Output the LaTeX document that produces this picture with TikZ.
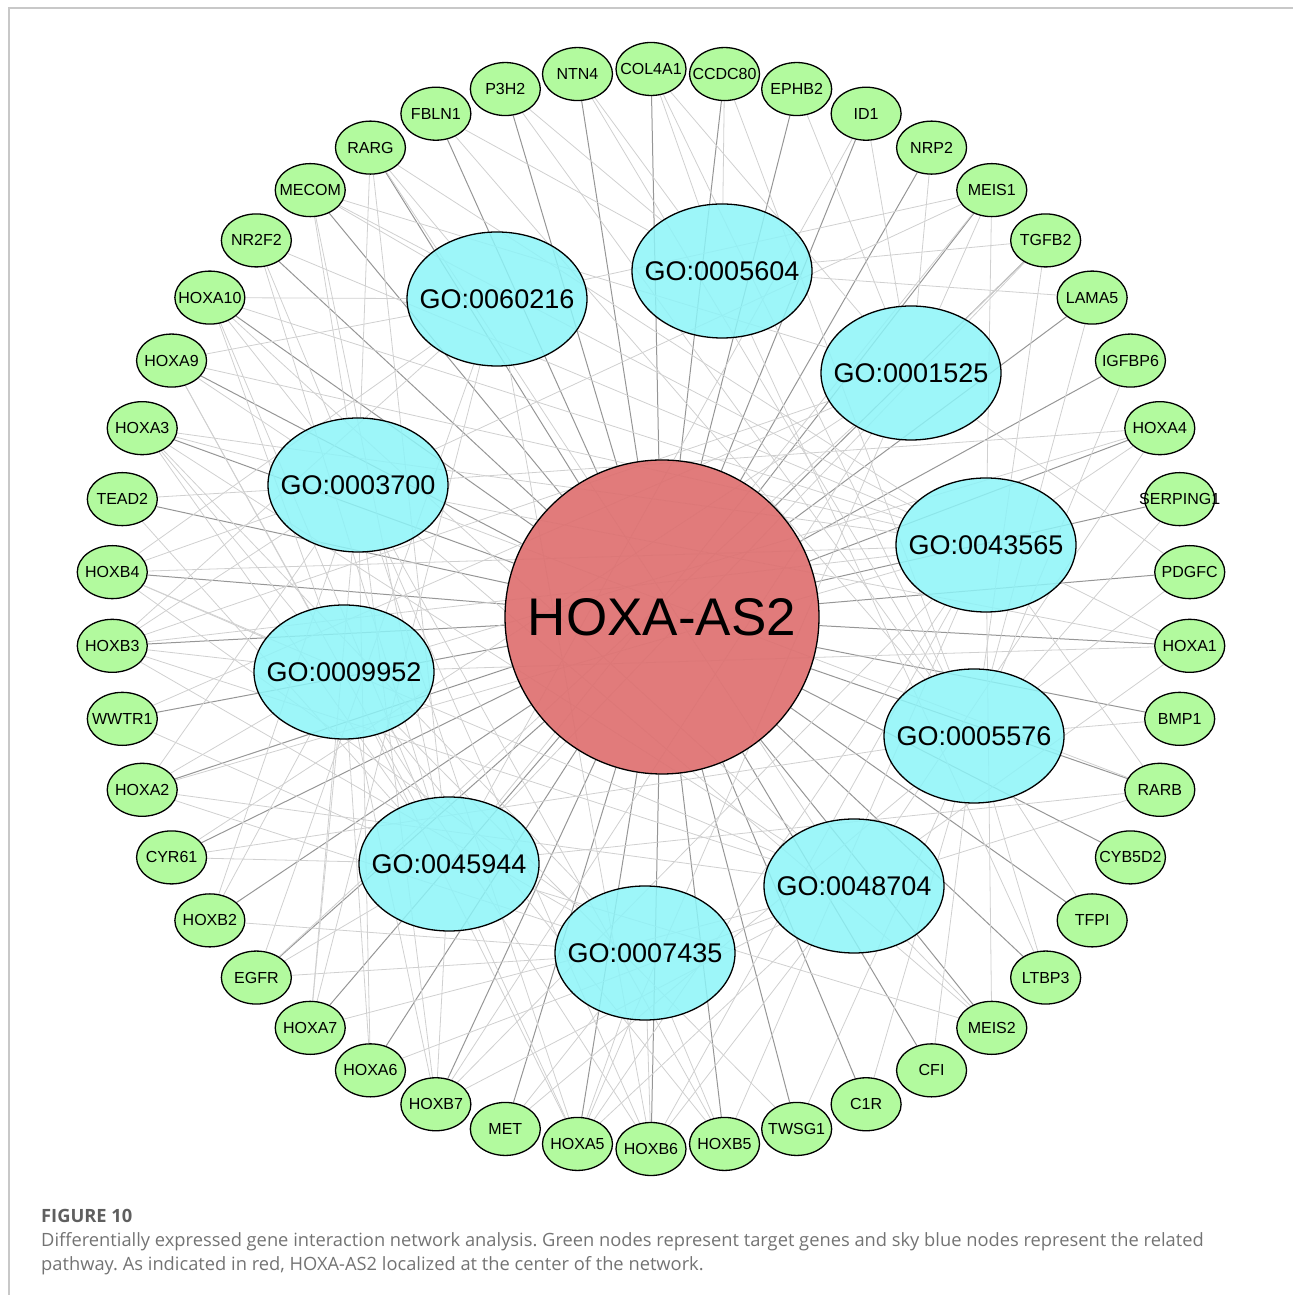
\documentclass[tikz,border=0pt]{standalone}
\usepackage{fontspec}
\setmainfont{Liberation Sans}
\newfontfamily\capfont{Open Sans}
\usetikzlibrary{positioning,calc,shapes.geometric,backgrounds}

\definecolor{genegreen}{RGB}{178,250,158}
\definecolor{goblue}{RGB}{140,244,248}
\definecolor{hubred}{RGB}{222,112,112}
\definecolor{edgedark}{RGB}{150,150,150}
\definecolor{edgelight}{RGB}{208,208,208}
\definecolor{figgray}{RGB}{95,95,95}
\definecolor{capgray}{RGB}{115,115,115}
\definecolor{framegray}{RGB}{200,200,200}

\begin{document}
\frenchspacing
\begin{tikzpicture}[x=1pt,y=1pt]
    \tikzstyle{gene}=[ellipse,draw,fill=genegreen,line width=1.3,minimum width=70,minimum height=53,inner sep=0,font=\fontsize{16}{19}\selectfont]
    \tikzstyle{goterm}=[ellipse,draw,fill=goblue,fill opacity=0.85,text opacity=1,line width=1.3,minimum width=180,minimum height=134,inner sep=0,font=\fontsize{27}{32}\selectfont]
    \tikzstyle{hub}=[circle,draw,fill=hubred,fill opacity=0.92,text opacity=1,line width=1.3,minimum size=314,inner sep=0,font=\fontsize{53}{60}\selectfont]
    \tikzstyle{hubedge}=[draw=edgedark,line width=1]
    \tikzstyle{goedge}=[draw=edgelight,line width=0.8]
    \tikzstyle{caption}=[anchor=base west,inner sep=0,text=capgray,font=\capfont\fontsize{18.3}{22}\selectfont]

    \useasboundingbox (0,0) rectangle (1293,1295);
    \draw[framegray,line width=1.5] (9,0) -- (9,1287) -- (1293,1287);

    \node[hub] (hoxa) at (662,678) {HOXA-AS2};

    % pathway nodes
    \node[goterm] (go5604) at (722,1024) {\makebox[0pt]{GO:0005604}};
    \node[goterm] (go60216) at (497,996) {\makebox[0pt]{GO:0060216}};
    \node[goterm] (go1525) at (911,922) {\makebox[0pt]{GO:0001525}};
    \node[goterm] (go3700) at (358,810) {\makebox[0pt]{GO:0003700}};
    \node[goterm] (go43565) at (986,750) {\makebox[0pt]{GO:0043565}};
    \node[goterm] (go9952) at (344,623) {\makebox[0pt]{GO:0009952}};
    \node[goterm] (go5576) at (974,559) {\makebox[0pt]{GO:0005576}};
    \node[goterm] (go45944) at (449,431) {\makebox[0pt]{GO:0045944}};
    \node[goterm] (go48704) at (854,409) {\makebox[0pt]{GO:0048704}};
    \node[goterm] (go7435) at (645,342) {\makebox[0pt]{GO:0007435}};

    % target genes, clockwise from the top
    \foreach \g [count=\i from 0] in {COL4A1,CCDC80,EPHB2,ID1,NRP2,MEIS1,TGFB2,LAMA5,IGFBP6,HOXA4,SERPING1,PDGFC,HOXA1,BMP1,RARB,CYB5D2,TFPI,LTBP3,MEIS2,CFI,C1R,TWSG1,HOXB5,HOXB6,HOXA5,MET,HOXB7,HOXA6,HOXA7,EGFR,HOXB2,CYR61,HOXA2,WWTR1,HOXB3,HOXB4,TEAD2,HOXA3,HOXA9,HOXA10,NR2F2,MECOM,RARG,FBLN1,P3H2,NTN4}
        \node[gene] (\g) at ($(651,686)+({90-\i*360/46}:540)$) {\makebox[0pt]{\g}};

    \begin{scope}[on background layer]
        \foreach \g in {COL4A1,CCDC80,EPHB2,ID1,NRP2,MEIS1,TGFB2,LAMA5,IGFBP6,HOXA4,SERPING1,PDGFC,HOXA1,BMP1,RARB,CYB5D2,TFPI,LTBP3,MEIS2,CFI,C1R,TWSG1,HOXB5,HOXB6,HOXA5,MET,HOXB7,HOXA6,HOXA7,EGFR,HOXB2,CYR61,HOXA2,WWTR1,HOXB3,HOXB4,TEAD2,HOXA3,HOXA9,HOXA10,NR2F2,MECOM,RARG,FBLN1,P3H2,NTN4}
            \draw[hubedge] (\g) -- (hoxa);
        \foreach \t/\genes in {
            go3700/{HOXA1,HOXA2,HOXA3,HOXA4,HOXA5,HOXA6,HOXA7,HOXA9,HOXA10,HOXB2,HOXB3,HOXB4,HOXB5,HOXB6,HOXB7,MEIS1,MEIS2,RARB,RARG,NR2F2,TEAD2,MECOM},
            go43565/{HOXA1,HOXA2,HOXA3,HOXA4,HOXA5,HOXA9,HOXA10,HOXB3,HOXB4,HOXB5,HOXB6,HOXB7,MEIS1,MEIS2,RARB,RARG,NR2F2,MECOM},
            go9952/{HOXA1,HOXA2,HOXA3,HOXA4,HOXA5,HOXA6,HOXA7,HOXA9,HOXA10,HOXB2,HOXB3,HOXB4,HOXB5,HOXB6,HOXB7,TWSG1},
            go45944/{HOXA3,HOXA5,HOXA9,HOXA10,HOXB7,MEIS1,MEIS2,RARB,RARG,NR2F2,TEAD2,MECOM,WWTR1,CYR61,EGFR,TGFB2,ID1},
            go48704/{HOXA1,HOXA2,HOXA3,HOXA4,HOXA5,HOXA6,HOXA7,HOXA10,HOXB3,HOXB4,HOXB6,HOXB7,RARB,RARG,MEIS2},
            go7435/{HOXA2,HOXA3,HOXA5,HOXB2,HOXB3,HOXB4,HOXB5,HOXB6,EGFR,MET},
            go5604/{COL4A1,LAMA5,NTN4,FBLN1,CCDC80,P3H2,TGFB2,LTBP3},
            go1525/{EPHB2,NRP2,ID1,PDGFC,TGFB2,CYR61,HOXB3,HOXA5,MECOM,WWTR1,EGFR,MEIS1,COL4A1,HOXB7},
            go5576/{COL4A1,LAMA5,TGFB2,IGFBP6,SERPING1,PDGFC,BMP1,TFPI,LTBP3,CFI,C1R,TWSG1,CCDC80,NTN4,FBLN1,CYR61,MET,P3H2},
            go60216/{HOXA9,HOXA10,MECOM,HOXB4,MEIS1,HOXA7,HOXB3,HOXB6,RARG,EGFR}}
            \foreach \g in \genes
                \draw[goedge] (\t) -- (\g);
    \end{scope}

    % caption
    \node[caption,text=figgray,font=\capfont\bfseries\fontsize{18.3}{22}\selectfont] (figlabel) at (41,72) {FIGURE 10};
    \node[caption] (capline1) at (41,48) {Differentially expressed gene interaction network analysis. Green nodes represent target genes and sky blue nodes represent the related};
    \node[caption] (capline2) at (41,24) {pathway. As indicated in red, HOXA-AS2 localized at the center of the network.};
\end{tikzpicture}
\end{document}
